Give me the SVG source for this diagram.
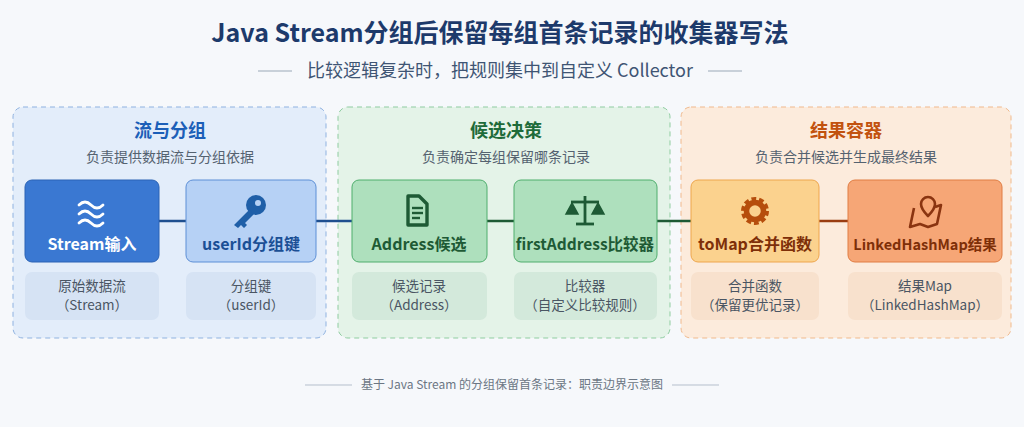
<svg xmlns="http://www.w3.org/2000/svg" width="1024" height="427" viewBox="0 0 1024 427">
<style>
text{font-family:"Noto Sans CJK SC","Noto Sans",sans-serif;text-anchor:middle}
.t{font-size:25px;font-weight:700;fill:#1d3a6b}
.st{font-size:18px;fill:#3f5574}
.ph{font-size:18px;font-weight:700}
.ps{font-size:14px;fill:#556270}
.nl{font-size:16px;font-weight:700}
.sub{font-size:13.5px;fill:#4a5563}
.foot{font-size:12px;fill:#6b7684}
</style>
<rect width="1024" height="427" fill="#f6f8fb"/>
<text class="t" x="500" y="42">Java Stream分组后保留每组首条记录的收集器写法</text>
<text class="st" x="500" y="77">比较逻辑复杂时，把规则集中到自定义 Collector</text>
<line x1="258" y1="71" x2="292" y2="71" stroke="#9aa7b8" stroke-width="1.2"/>
<line x1="708" y1="71" x2="742" y2="71" stroke="#9aa7b8" stroke-width="1.2"/>

<g id="panel-stream">
<rect x="13" y="107" width="313" height="231" rx="10" fill="#e3edfa" stroke="#8fb2e0" stroke-dasharray="5 4"/>
<text class="ph" x="170" y="137" fill="#1c5fb8">流与分组</text>
<text class="ps" x="170" y="162">负责提供数据流与分组依据</text>
</g>
<g id="panel-candidate">
<rect x="338" y="107" width="332" height="231" rx="10" fill="#e4f3e8" stroke="#8fcca0" stroke-dasharray="5 4"/>
<text class="ph" x="506" y="137" fill="#1e6b3a">候选决策</text>
<text class="ps" x="506" y="162">负责确定每组保留哪条记录</text>
</g>
<g id="panel-result">
<rect x="681" y="107" width="330" height="231" rx="10" fill="#fcebdc" stroke="#f0b98c" stroke-dasharray="5 4"/>
<text class="ph" x="846" y="137" fill="#c2520f">结果容器</text>
<text class="ps" x="846" y="162">负责合并候选并生成最终结果</text>
</g>

<g id="connectors" stroke-width="2.5">
<line x1="159" y1="221" x2="186" y2="221" stroke="#1f4f8f"/>
<line x1="316" y1="221" x2="352" y2="221" stroke="#1f4f8f"/>
<line x1="487" y1="221" x2="514" y2="221" stroke="#1e5a35"/>
<line x1="657" y1="221" x2="691" y2="221" stroke="#1e5a35"/>
<line x1="819" y1="221" x2="848" y2="221" stroke="#9a3c10"/>
</g>

<g id="n-stream">
<rect x="25" y="180" width="134" height="82" rx="7" fill="#3a78d2" stroke="#2a62b5"/>
<g fill="none" stroke="#fff" stroke-width="2.8" stroke-linecap="round">
<path d="M79 205 q6 -6 12 0 t12 0"/><path d="M79 214 q6 -6 12 0 t12 0"/><path d="M79 223 q6 -6 12 0 t12 0"/>
</g>
<text class="nl" x="92" y="250" fill="#fff">Stream输入</text>
<rect x="25" y="272" width="134" height="48" rx="7" fill="#d6e3f4"/>
<text class="sub" x="92" y="291">原始数据流</text>
<text class="sub" x="92" y="310">（Stream）</text>
</g>
<g id="n-userid">
<rect x="186" y="180" width="130" height="82" rx="7" fill="#b6d1f5" stroke="#5d8fd6"/>
<g fill="#1f5fa8"><circle cx="256" cy="205" r="10"/><path d="M249 210 l-15 15 l4 3 l3 -3 l3 3 l3 -3 l-2 -2 l9 -9 z"/></g>
<circle cx="258" cy="203" r="3" fill="#b6d1f5"/>
<text class="nl" x="251" y="250" fill="#1b4f95">userId分组键</text>
<rect x="186" y="272" width="130" height="48" rx="7" fill="#d6e3f4"/>
<text class="sub" x="251" y="291">分组键</text>
<text class="sub" x="251" y="310">（userId）</text>
</g>
<g id="n-address">
<rect x="352" y="180" width="135" height="82" rx="7" fill="#aee0bd" stroke="#4fae6d"/>
<path d="M408 196 h11 l8 8 v21 h-19 z" fill="none" stroke="#1e5a35" stroke-width="3.4" stroke-linejoin="round"/>
<g stroke="#1e5a35" stroke-width="2.4"><line x1="412" y1="208" x2="423" y2="208"/><line x1="412" y1="213" x2="423" y2="213"/><line x1="412" y1="218" x2="420" y2="218"/></g>
<text class="nl" x="419" y="250" fill="#1e5a35">Address候选</text>
<rect x="352" y="272" width="135" height="48" rx="7" fill="#d3e9db"/>
<text class="sub" x="419" y="291">候选记录</text>
<text class="sub" x="419" y="310">（Address）</text>
</g>
<g id="n-comparator">
<rect x="514" y="180" width="143" height="82" rx="7" fill="#aee0bd" stroke="#4fae6d"/>
<g fill="#1e5a35" stroke="#1e5a35" stroke-width="2.8">
<line x1="585" y1="196" x2="585" y2="223"/><line x1="571" y1="202" x2="599" y2="202"/><line x1="576" y1="224" x2="594" y2="224"/>
<path d="M566 214 l6 -11 l6 11 z M592 214 l6 -11 l6 11 z" stroke-width="1.5"/>
</g>
<text class="nl" x="585" y="250" fill="#1e5a35" style="font-size:15.5px">firstAddress比较器</text>
<rect x="514" y="272" width="143" height="48" rx="7" fill="#d3e9db"/>
<text class="sub" x="585" y="291">比较器</text>
<text class="sub" x="585" y="310">（自定义比较规则）</text>
</g>
<g id="n-tomap">
<rect x="691" y="180" width="128" height="82" rx="7" fill="#fbd28e" stroke="#eea64d"/>
<circle cx="755" cy="211" r="11" fill="none" stroke="#b64e0c" stroke-width="6" stroke-dasharray="4.3 2.6"/>
<circle cx="755" cy="211" r="8.5" fill="none" stroke="#b64e0c" stroke-width="5.5"/>
<text class="nl" x="755" y="250" fill="#7e2f08">toMap合并函数</text>
<rect x="691" y="272" width="128" height="48" rx="7" fill="#f8e1cd"/>
<text class="sub" x="755" y="291">合并函数</text>
<text class="sub" x="755" y="310">（保留更优记录）</text>
</g>
<g id="n-linkedhashmap">
<rect x="848" y="180" width="154" height="82" rx="7" fill="#f6a676" stroke="#e07c42"/>
<g fill="none" stroke="#8a3410" stroke-width="2.6" stroke-linejoin="round">
<path d="M914 208 l-4 19 l10 -3 l8 3 l9 -3 l4 -19 l-6 2"/>
<path d="M928 216 c-7 -7 -7 -10 -7 -12 a7 7 0 0 1 14 0 c0 2 0 5 -7 12 z"/>
</g>
<text class="nl" x="925" y="250" fill="#7e2f08" style="font-size:14.5px">LinkedHashMap结果</text>
<rect x="848" y="272" width="154" height="48" rx="7" fill="#f8e1cd"/>
<text class="sub" x="925" y="291">结果Map</text>
<text class="sub" x="925" y="310">（LinkedHashMap）</text>
</g>

<text class="foot" x="512" y="389">基于 Java Stream 的分组保留首条记录：职责边界示意图</text>
<line x1="305" y1="385" x2="352" y2="385" stroke="#b5bfcc"/>
<line x1="672" y1="385" x2="719" y2="385" stroke="#b5bfcc"/>
</svg>
